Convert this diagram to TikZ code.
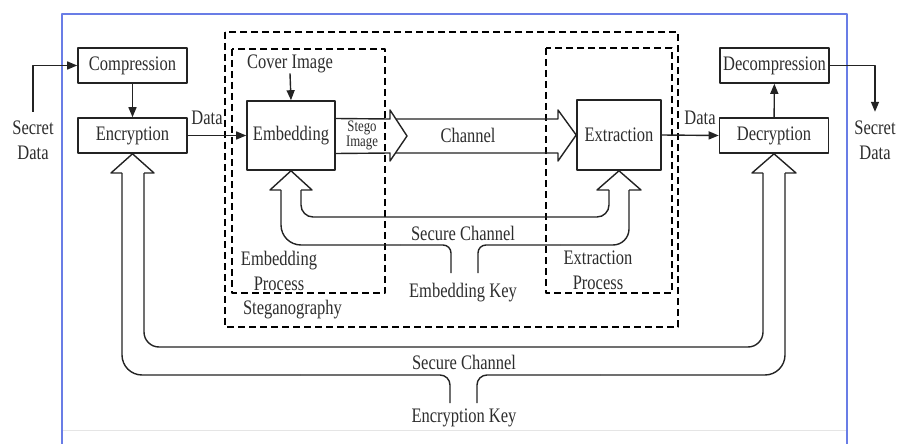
\documentclass[tikz,border=0pt]{standalone}
\usepackage{fontspec}
\setmainfont{Liberation Serif}
\usetikzlibrary{arrows.meta}

\definecolor{frameblue}{RGB}{105,125,230}
\definecolor{inkgray}{RGB}{35,35,35}
\definecolor{textgray}{RGB}{45,45,45}

\newcommand\lblfont{\fontsize{16.5}{20}\selectfont}
\newcommand\smallfont{\fontsize{12.8}{12.6}\selectfont}
\newcommand\tallbox[1]{\scalebox{1}[1.25]{#1}}

\begin{document}
\begin{tikzpicture}[x=1pt,y=-1pt,
  line join=round,
  ink/.style={draw=inkgray, line width=1.4pt},
  arr/.style={ink, -{Triangle[length=10pt,width=8pt]}},
  box/.style={draw=inkgray, line width=1.6pt, inner sep=0pt, font=\lblfont, text=textgray},
  smallbox/.style={box, minimum width=109pt, minimum height=35pt},
  bigbox/.style={box, minimum height=69pt},
  txt/.style={font=\lblfont, text=textgray, yscale=1.25, inner sep=0pt, align=center},
  dashbox/.style={draw=black, line width=2.4pt, dash pattern=on 7pt off 4pt}
]
\useasboundingbox (0,0) rectangle (898,444);

% frame
\draw[frameblue, line width=1.2pt] (62,444) -- (62,14) -- (847,14) -- (847,444);
\draw[black!10, line width=0.8pt] (63,430) -- (846,430);

% steganography groups
\draw[dashbox] (225,32) rectangle (678,327);
\draw[dashbox] (232,49) rectangle (385,293);
\draw[dashbox] (546,48) rectangle (672,293);

% processing blocks
\node[smallbox] (comp)   at (132.5,65.5) {\tallbox{Compression}};
\node[smallbox] (enc)    at (132.5,135.5) {\tallbox{Encryption}};
\node[bigbox, minimum width=88pt] (emb) at (291,135.5) {\tallbox{Embedding}};
\node[bigbox, minimum width=84pt, minimum height=70pt] (ext) at (619,135) {\tallbox{Extraction}};
\node[smallbox] (dec)    at (774,135.5) {\tallbox{Decryption}};
\node[smallbox] (decomp) at (774.5,65.5) {\tallbox{Decompression}};

% labels
\node[txt] (sdl)   at (33,140.5)  {Secret\\Data};
\node[txt] (sdr)   at (875,140.5) {Secret\\Data};
\node[txt] (dl)    at (207,118)   {Data};
\node[txt] (dr)    at (700,118)   {Data};
\node[txt] (cover) at (290,64)    {Cover Image};
\node[txt, font=\smallfont] (stego) at (362,135.5) {Stego\\Image};
\node[txt] (chan)  at (468,135)   {Channel};
\node[txt] (sc1)   at (463,233)   {Secure Channel};
\node[txt] (ekey)  at (463,293)   {Embedding Key};
\node[txt] (embp)  at (279,270.5) {Embedding\\Process};
\node[txt] (extp)  at (598,270.5) {Extraction\\Process};
\node[txt] (steg)  at (292.5,310) {Steganography};
\node[txt] (sc2)   at (464,362)   {Secure Channel};
\node[txt] (ckey)  at (464,418)   {Encryption Key};

% data flow
\draw[arr] ([yshift=9pt]sdl.north) |- (comp.west);
\draw[arr] (comp) -- (enc);
\draw[arr] (enc.east) -- (emb.west);
\draw[arr] (cover.south) -- (emb.north);
\draw[arr] (ext.east) -- (dec.west);
\draw[arr] (dec) -- (decomp);
\draw[arr] (decomp.east) -| ([yshift=9pt]sdr.north);

% channel (hollow arrows)
\draw[ink] ([yshift=17pt]emb.east) -- (390,119) -- (390,110) -- (407,136)
  -- (390,161) -- (390,153) -- ([yshift=-18pt]emb.east);
\draw[ink] (396,119) -- (558,119) -- (558,110) -- (ext.west)
  -- (558,161) -- (558,153) -- (396,153);

% embedding key over the secure channel
\draw[ink] (301,190) -- (312,190) -- (emb.south) -- (270,190) -- (281,190);
\draw[ink] (609,190) -- (597,190) -- (ext.south) -- (641,190) -- (629,190);
\draw[ink, rounded corners=12pt] (301,190) -- (301,217) -- (609,217) -- (609,190);
\draw[ink, rounded corners=20pt] (281,190) -- (281,245) -- (400,245);
\draw[ink, rounded corners=8pt] (400,245) -- (451,245) -- (451,273);
\draw[ink, rounded corners=8pt] (478,273) -- (478,245) -- (560,245);
\draw[ink, rounded corners=16pt] (560,245) -- (629,245) -- (629,190);

% encryption key over the secure channel
\draw[ink] (144,173) -- (154,173) -- (enc.south) -- (111,173) -- (122,173);
\draw[ink] (763,173) -- (752,173) -- (dec.south) -- (796,173) -- (785,173);
\draw[ink, rounded corners=15pt] (144,173) -- (144,347) -- (763,347) -- (763,173);
\draw[ink, rounded corners=20pt] (122,173) -- (122,375) -- (300,375);
\draw[ink, rounded corners=10pt] (300,375) -- (450,375) -- (450,403);
\draw[ink, rounded corners=10pt] (477,403) -- (477,375) -- (600,375);
\draw[ink, rounded corners=20pt] (600,375) -- (785,375) -- (785,173);
\end{tikzpicture}
\end{document}
